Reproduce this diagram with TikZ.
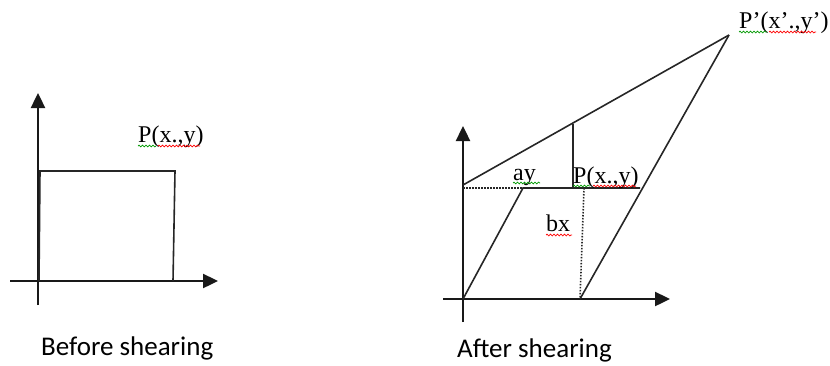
\documentclass[tikz,border=0pt]{standalone}
\usepackage{fontspec}
\setmainfont{Liberation Serif}
\newfontfamily\capfont{Carlito}
\usetikzlibrary{arrows.meta,decorations.pathmorphing}
\tikzset{
  axis/.style={line width=2.4pt,draw=black!90,-{Triangle[length=15pt,width=14pt]}},
  edge/.style={line width=1.6pt,draw=black!85},
  dotln/.style={line width=1.6pt,draw=black!85,dash pattern=on 1.5pt off 1.5pt},
  ptlbl/.style={inner sep=0pt,anchor=base west,font=\fontsize{24}{28}\selectfont},
  caplbl/.style={inner sep=0pt,anchor=base west,font=\capfont\fontsize{27}{32}\selectfont},
  wavy/.style={line width=0.7pt,decorate,decoration={snake,segment length=3.5pt,amplitude=0.9pt}}
}
\begin{document}
\begin{tikzpicture}[x=1pt,y=-1pt]
  \useasboundingbox (0,0) rectangle (830,365);
  % Before shearing: axes
  \coordinate (ly0) at (38,305);
  \coordinate (ly1) at (38,93);
  \coordinate (lx0) at (10,281);
  \coordinate (lx1) at (218,281);
  \draw[axis] (ly0) -- (ly1);
  \draw[axis] (lx0) -- (lx1);

  % Before shearing: square
  \coordinate (sqA) at (39,281);
  \coordinate (sqB) at (40,171);
  \coordinate (sqC) at (175,171);
  \coordinate (sqD) at (173,281);
  \draw[edge] (sqA) -- (sqB) -- (sqC) -- (sqD);
  \node[ptlbl] (lblP) at (138,142) {P(x.,y)};
  \node[caplbl] (lblBefore) at (41,355) {Before shearing};

  % After shearing: axes
  \coordinate (ry0) at (463,322);
  \coordinate (ry1) at (463,126);
  \coordinate (rx0) at (443,299);
  \coordinate (rx1) at (670,299);
  \draw[axis] (ry0) -- (ry1);
  \draw[axis] (rx0) -- (rx1);

  % After shearing: parallelogram
  \coordinate (O) at (463,299);
  \coordinate (pA) at (523,188);
  \coordinate (pB) at (640,188);
  \coordinate (pC) at (580,299);
  \coordinate (yA) at (463,188);
  \coordinate (yT) at (463,185);
  \coordinate (P) at (573,188);
  \coordinate (Pb) at (584,188);
  \coordinate (Pup) at (573,124);
  \coordinate (Pnew) at (729,35);
  \draw[edge] (O) -- (pA) -- (pB);
  \draw[dotln] (yA) -- (pA);
  \draw[dotln] (Pb) -- (pC);
  \draw[edge] (P) -- (Pup);
  \draw[edge] (yT) -- (Pnew);
  \draw[edge] (Pnew) -- (pC);

  % Labels
  \node[ptlbl] (lblAy) at (513,180) {ay};
  \node[ptlbl] (lblP2) at (573,183) {P(x.,y)};
  \node[ptlbl] (lblBx) at (546,231) {bx};
  \node[ptlbl] (lblPnew) at (739,28) {P’(x’.,y’)};
  \node[caplbl] (lblAfter) at (457,357) {After shearing};

  % Spelling marks
  \draw[wavy,green!60!black] (138,146) -- (156,146);
  \draw[wavy,red] (158,146) -- (200,146);
  \draw[wavy,green!60!black] (513,183) -- (540,183);
  \draw[wavy,green!60!black] (573,186) -- (590,186);
  \draw[wavy,red] (593,186) -- (636,186);
  \draw[wavy,red] (546,235) -- (572,235);
  \draw[wavy,green!60!black] (739,32) -- (767,32);
  \draw[wavy,red] (769,32) -- (816,32);
\end{tikzpicture}
\end{document}
